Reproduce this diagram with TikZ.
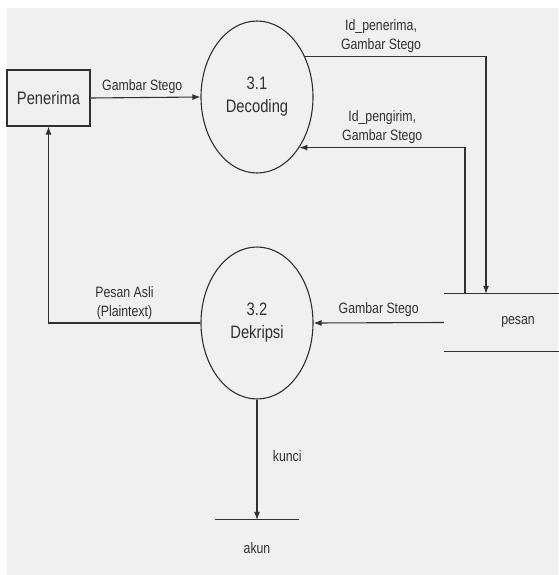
\documentclass[tikz,border=0pt]{standalone}
\usepackage{fontspec}
\setmainfont[FakeStretch=0.82]{Liberation Sans}
\usetikzlibrary{shapes.geometric,positioning,arrows.meta}
\definecolor{paper}{HTML}{F0F0F0}
\definecolor{ink}{HTML}{303030}
\tikzstyle{entity}=[rectangle,
                      minimum width=83pt,
                      minimum height=56pt,
                      draw=ink,
                      line width=1.2pt,
                      text=ink,
                      font=\fontsize{18}{23}\selectfont ]
\tikzstyle{process}=[ellipse,
                       minimum width=112pt,
                       minimum height=152pt,
                       draw=ink,
                       line width=1.1pt,
                       align=center,
                       text=ink,
                       font=\fontsize{18}{23}\selectfont ]
\tikzstyle{store}=[rectangle,
                     minimum height=57pt,
                     text=ink,
                     font=\fontsize{15}{19}\selectfont ]
\tikzstyle{store_line}=[draw=ink, line width=1.3pt]
\tikzstyle{flow}=[draw=ink, line width=1.1pt, -{Latex[length=8pt, width=6pt]}]
\tikzstyle{flow_label}=[align=center, text=ink, font=\fontsize{15}{19}\selectfont]

\begin{document}
\begin{tikzpicture}[x=1pt, y=-1pt]
    \fill[white] (0, 0) rectangle (558, 575);
    \fill[paper] (7, 8) rectangle (558, 575);
    \useasboundingbox (0, 0) rectangle (558, 575);

    \node at (48.5, 98) (Penerima) [entity] {Penerima};
    \node at (257, 97) (Decoding) [process] {3.1\\Decoding};
    \node at (257, 323) (Dekripsi) [process] {3.2\\Dekripsi};

    % data stores, open on both sides
    \node at (518, 322.5) (pesan) [store, minimum width=148pt] {pesan};
    \draw[store_line] (pesan.north west) -- (pesan.north east);
    \draw[store_line] (pesan.south west) -- (pesan.south east);
    \node at (257, 548) (akun) [store, minimum width=84pt, minimum height=56pt] {akun};
    \draw[store_line] (akun.north west) -- (akun.north east);

    \draw[flow] (Penerima.east) -- (Decoding.west) node[pos=0.47, above, flow_label] {Gambar Stego};
    \draw[flow] (Decoding.40) -| ([xshift=-32pt]pesan.north) node[pos=0.21, above, flow_label] {Id\_penerima,\\Gambar Stego};
    \draw[flow] ([xshift=-53pt]pesan.north) |- (Decoding.-50) node[pos=0.75, above, flow_label] {Id\_pengirim,\\Gambar Stego};
    \draw[flow] (pesan.west) -- (Dekripsi.east) node[pos=0.5, above=2pt, flow_label] {Gambar Stego};
    \draw[flow] (Dekripsi.west) -| (Penerima.south) node[pos=0.25, above, flow_label] {Pesan Asli\\(Plaintext)};
    \draw[flow] (Dekripsi.south) -- (akun.north) node[pos=0.47, right=12pt, flow_label] {kunci};
\end{tikzpicture}
\end{document}
